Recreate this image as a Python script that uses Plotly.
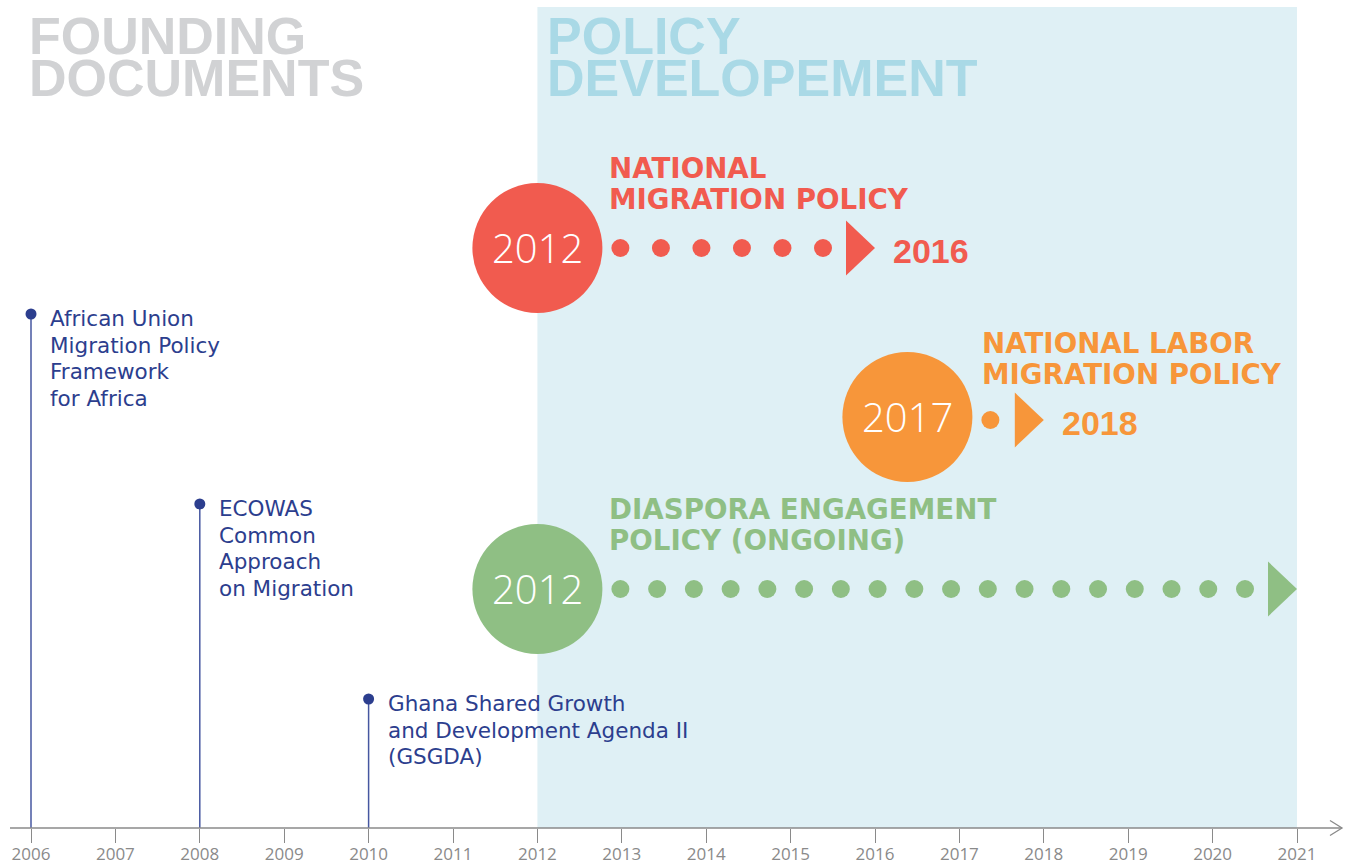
import numpy as np
import plotly.graph_objects as go

# ---------------- data ----------------
years = list(range(2006, 2022))
tick_labels = [str(y) for y in years]

section_titles = [["FOUNDING", "DOCUMENTS"], ["POLICY", "DEVELOPEMENT"]]
section_years = [2006, 2012]
policy_period = [2012, 2021]

doc_years = [2006, 2008, 2010]
doc_texts = [
    ["African Union", "Migration Policy", "Framework", "for Africa"],
    ["ECOWAS", "Common", "Approach", "on Migration"],
    ["Ghana Shared Growth", "and Development Agenda II", "(GSGDA)"],
]

policy_names = [
    ["NATIONAL", "MIGRATION POLICY"],
    ["NATIONAL LABOR", "MIGRATION POLICY"],
    ["DIASPORA ENGAGEMENT", "POLICY (ONGOING)"],
]
policy_start = [2012, 2017, 2012]
policy_end = [2016, 2018, 2021]
policy_end_label = ["2016", "2018", ""]

# ---------------- layout / style ----------------
W, H = 1348, 868
PXY = 84.4                   # pixels per year
X_LEFT = 2006 - 31 / PXY
X_RIGHT = X_LEFT + W / PXY
Y_TOP, Y_BOT = 0, H          # y axis expressed in page pixels
AXIS_Y = 828

NAVY = "#2c3e8e"
NAVY_LINE = "#4657a0"
GREY = "#8a8a8a"
BG = "#dff0f5"
TITLE_COLORS = ["#d1d2d4", "#a9d9e6"]
COLORS = ["#f15b4f", "#f7963a", "#8fbf84"]

doc_dot_y = [314, 504, 699]
doc_line_pitch = 26.7
doc_text_dx = 17

row_cy = [248, 420, 589]
circle_dy = [0, -3, 0]
circle_shift_px = [0, -52, 0]
circle_r = 65
n_dots = [6, 1, 18]
title_dx = [70, 73, 70]
title_dy = [-80, -77, -80]
title_pitch = 31


def px(d):
    return d / PXY


fig = go.Figure()
shapes = []
annotations = []

# policy background
shapes.append(dict(type="rect", xref="x", yref="y", x0=policy_period[0], x1=policy_period[1],
                   y0=7, y1=AXIS_Y, fillcolor=BG, line=dict(width=0), layer="below"))

# section titles
for lines, yr, col, dx in zip(section_titles, section_years, TITLE_COLORS, [-4, 8]):
    for i, t in enumerate(lines):
        annotations.append(dict(x=yr, y=36 + 42 * i, xref="x", yref="y", text=t, showarrow=False,
                                xanchor="left", yanchor="middle", xshift=dx,
                                font=dict(family="Liberation Sans", size=52, color=col, weight="bold")))

# founding documents
for yr, lines, dy in zip(doc_years, doc_texts, doc_dot_y):
    fig.add_trace(go.Scatter(x=[yr, yr], y=[dy, AXIS_Y], mode="lines",
                             line=dict(color=NAVY_LINE, width=1.5), hoverinfo="skip"))
    fig.add_trace(go.Scatter(x=[yr], y=[dy], mode="markers",
                             marker=dict(color=NAVY, size=11), hoverinfo="skip"))
    for i, t in enumerate(lines):
        annotations.append(dict(x=yr, y=dy + 4.5 + doc_line_pitch * i, xref="x", yref="y", text=t,
                                showarrow=False, xanchor="left", yanchor="middle", xshift=doc_text_dx,
                                font=dict(family="DejaVu Sans", size=21.5, color=NAVY)))

# policies
for k in range(3):
    col = COLORS[k]
    cy = row_cy[k]
    ccy = cy + circle_dy[k]
    cx = policy_start[k] + px(circle_shift_px[k])
    tip = policy_end[k]
    shapes.append(dict(type="circle", xref="x", yref="y", x0=cx - px(circle_r), x1=cx + px(circle_r),
                       y0=ccy - circle_r, y1=ccy + circle_r, fillcolor=col, line=dict(width=0), layer="below"))
    annotations.append(dict(x=cx, y=ccy - 1, xref="x", yref="y", text=str(policy_start[k]), showarrow=False,
                            xanchor="center", yanchor="middle",
                            font=dict(family="Open Sans", size=40, color="white", weight=300)))
    # dots
    first = cx + px(83)
    last = tip - px(52)
    xs = np.linspace(first, last, n_dots[k]) if n_dots[k] > 1 else np.array([first])
    fig.add_trace(go.Scatter(x=xs, y=[cy] * len(xs), mode="markers",
                             marker=dict(color=col, size=18, line=dict(width=0)), hoverinfo="skip"))
    # arrow head
    fig.add_trace(go.Scatter(x=[tip - px(29), tip, tip - px(29), tip - px(29)],
                             y=[cy - 27.5, cy, cy + 27.5, cy - 27.5], mode="lines", fill="toself",
                             fillcolor=col, line=dict(width=0, color=col), hoverinfo="skip"))
    if policy_end_label[k]:
        annotations.append(dict(x=tip, y=cy + 3, xref="x", yref="y", text=policy_end_label[k], showarrow=False,
                                xanchor="left", yanchor="middle", xshift=16,
                                font=dict(family="Liberation Sans", size=34, color=col, weight="bold")))
    for i, t in enumerate(policy_names[k]):
        annotations.append(dict(x=cx, y=cy + title_dy[k] + title_pitch * i, xref="x", yref="y", text=t,
                                showarrow=False, xanchor="left", yanchor="middle", xshift=title_dx[k],
                                font=dict(family="DejaVu Sans", size=27.7, color=col, weight="bold")))

# axis arrow chevron
fig.add_trace(go.Scatter(x=[2021 + px(33), 2021 + px(45), 2021 + px(33)],
                         y=[AXIS_Y - 7.5, AXIS_Y, AXIS_Y + 7.5], mode="lines",
                         line=dict(color=GREY, width=1.3), hoverinfo="skip"))

fig.update_layout(
    width=W, height=H,
    margin=dict(l=0, r=0, t=0, b=0, autoexpand=False),
    paper_bgcolor="white", plot_bgcolor="white",
    showlegend=False, hovermode=False,
    shapes=shapes, annotations=annotations,
    xaxis=dict(range=[X_LEFT, X_RIGHT], anchor="free", position=(Y_BOT - AXIS_Y) / H,
               showline=False, showgrid=False, zeroline=False,
               automargin=False,
               tickmode="array", tickvals=years, ticktext=tick_labels,
               ticks="outside", ticklen=14, tickwidth=1.3, tickcolor=GREY,
               ticklabelstandoff=-3,
               tickfont=dict(family="Open Sans", size=17, color=GREY), fixedrange=True),
    yaxis=dict(range=[Y_BOT, Y_TOP], visible=False, fixedrange=True, automargin=False),
)

# axis baseline from the left edge to the arrow tip
fig.add_trace(go.Scatter(x=[2006 - px(21), 2021 + px(45)], y=[AXIS_Y, AXIS_Y], mode="lines",
                         line=dict(color=GREY, width=1.3), hoverinfo="skip"))

fig.write_html("out.html", config={"displayModeBar": False},
               post_script="document.body.style.margin='0';document.body.style.overflow='hidden';")
